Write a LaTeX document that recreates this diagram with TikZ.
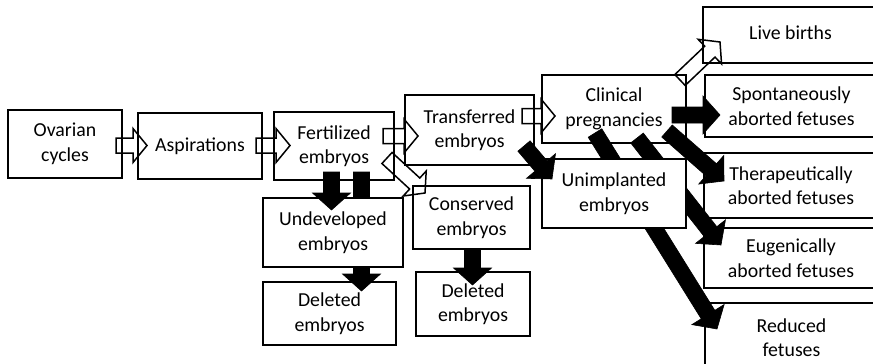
\documentclass[tikz,border=0pt]{standalone}
\usepackage{fontspec}
\setmainfont{Carlito}
\usetikzlibrary{calc}
\tikzset{
  box/.style={draw, line width=1.8pt, fill=white, inner sep=0pt, align=center,
    font=\fontsize{19.8}{24.5}\selectfont},
  hollow/.style={draw, line width=1.5pt, fill=none, line join=miter},
  solidarrow/.style={draw, fill=black, line width=0.6pt, line join=miter},
}
\newcommand{\mkbox}[6]{%
  \node[box, minimum width={#4-#2}, minimum height={#5-#3}] (#1) at ({(#2+#4)/2},{(#3+#5)/2}) {#6};}
% #1 style, #2 from, #3 to, #4 half shaft, #5 half head, #6 head length
\newcommand{\blockarrow}[6]{%
  \coordinate (hb) at ($(#3)!#6!(#2)$);
  \draw[#1] ($(#2)!#4!90:(#3)$) -- ($(hb)!#4!-90:(#2)$) -- ($(hb)!#5!-90:(#2)$) -- (#3)
    -- ($(hb)!#5!90:(#2)$) -- ($(hb)!#4!90:(#2)$) -- ($(#2)!#4!-90:(#3)$) -- cycle;}
\newcommand{\hollowarrow}[2]{\blockarrow{hollow}{#1}{#2}{7.5pt}{17pt}{14pt}}
\newcommand{\blackarrow}[2]{\blockarrow{solidarrow}{#1}{#2}{8pt}{19pt}{17pt}}
\begin{document}
\begin{tikzpicture}[x=1pt, y=-1pt]
\useasboundingbox (0,0) rectangle (873,364);
\clip (0,0) rectangle (873,364);
\fill[white] (0,0) rectangle (873,364);

% boxes (lower layer)
\mkbox{ov}{8}{110}{122}{178}{Ovarian\\cycles}
\mkbox{asp}{138}{113}{262}{179}{Aspirations}
\mkbox{fert}{274}{112}{394}{180}{Fertilized\\embryos}
\mkbox{trans}{405}{95}{534}{165}{Transferred\\embryos}
\mkbox{cons}{413}{186}{530}{249}{Conserved\\embryos}
\mkbox{delL}{263}{282}{396}{345}{Deleted\\embryos}
\mkbox{delR}{416}{272}{530}{336}{Deleted\\embryos}
\mkbox{clin}{542}{75}{686}{143}{Clinical\\pregnancies}
\mkbox{live}{703}{7}{878}{63}{\raisebox{5pt}{Live births}}
\mkbox{spont}{705}{75}{878}{137}{Spontaneously\\aborted fetuses}
\mkbox{ther}{704}{153}{878}{218}{Therapeutically\\aborted fetuses}
\mkbox{eug}{704}{228}{878}{288}{Eugenically\\aborted fetuses}
\mkbox{red}{705}{303}{878}{372}{Reduced\\fetuses}

% arrow end points
\coordinate (ovT) at (116,145.5);   \coordinate (aspH) at (147,145.5);
\coordinate (aspT) at (256,145.5);  \coordinate (fertH) at (290,145.5);
\coordinate (fertT) at (383,136);   \coordinate (transH) at (418,136);
\coordinate (transT) at (522,116);  \coordinate (clinH) at (555,116);
\coordinate (fertT2) at (387,158);  \coordinate (consH) at (425,193);
\coordinate (clinT) at (680,80);    \coordinate (liveH) at (720,42);
\coordinate (fertT3) at (361.5,172); \coordinate (delLH) at (361.5,291);
\coordinate (consT) at (472.5,249); \coordinate (delRH) at (472.5,285);
\coordinate (clinT2) at (672,115);  \coordinate (spontH) at (720,115);
\coordinate (clinT3) at (667,131);  \coordinate (therH) at (724,181);
\coordinate (clinT4) at (637,138);  \coordinate (eugH) at (721,245);
\coordinate (clinT5) at (595,133);  \coordinate (redH) at (717,329);
\coordinate (fertT4) at (331.5,172); \coordinate (undevH) at (331.5,210);
\coordinate (transT2) at (524,146); \coordinate (unimpH) at (552,179);

% hollow arrows
\hollowarrow{ovT}{aspH}
\hollowarrow{aspT}{fertH}
\hollowarrow{fertT}{transH}
\hollowarrow{transT}{clinH}
\hollowarrow{fertT2}{consH}
\hollowarrow{clinT}{liveH}

% black arrows under the upper boxes
\blackarrow{fertT3}{delLH}
\blackarrow{consT}{delRH}
\blackarrow{clinT2}{spontH}
\blackarrow{clinT3}{therH}
\blackarrow{clinT4}{eugH}
\blackarrow{clinT5}{redH}

% upper boxes
\mkbox{undev}{263}{198}{403}{267}{Undeveloped\\embryos}
\mkbox{unimp}{542}{159}{686}{228}{Unimplanted\\embryos}

% black arrows over the upper boxes
\blackarrow{fertT4}{undevH}
\blackarrow{transT2}{unimpH}
\end{tikzpicture}
\end{document}
